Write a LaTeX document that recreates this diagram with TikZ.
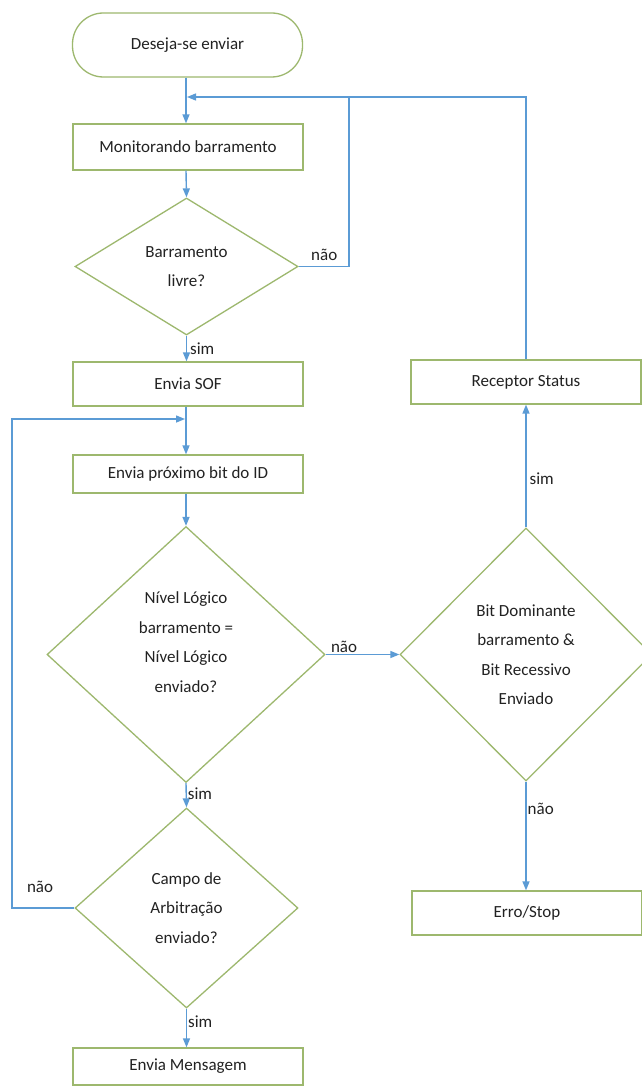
\documentclass[tikz,border=0pt]{standalone}
\usepackage{fontspec}
\setmainfont{Carlito}
\usetikzlibrary{arrows.meta,shapes.geometric}
\definecolor{boxline}{HTML}{9DB86E}
\definecolor{flow}{HTML}{5B9BD5}
\definecolor{ink}{HTML}{222222}
\begin{document}
\begin{tikzpicture}[x=1pt,y={(0pt,-1pt)},
  every node/.style={text=ink,font=\fontsize{17}{29.5}\selectfont},
  procbox/.style={draw=boxline,line width=1.3pt,fill=white,minimum width=230pt,inner sep=0pt},
  termbox/.style={procbox,rounded corners=31pt,minimum height=64pt},
  decision/.style={draw=boxline,line width=1.3pt,fill=white,diamond,inner sep=0pt,align=center},
  txt/.style={align=center,inner sep=0pt},
  lbl/.style={inner sep=1pt},
  conn/.style={draw=flow,line width=1.4pt},
  arr/.style={conn,-{Triangle[length=9pt,width=7pt]}}]
\useasboundingbox[fill=white] (0,0) rectangle (641,1086);

% left column
\node[termbox] (start) at (187.5,45) {Deseja-se enviar};
\node[procbox,minimum height=46pt] (mon) at (188,147) {Monitorando barramento};
\node[decision,minimum width=223pt,minimum height=137pt] (bar) at (186.5,266.5) {Barramento\\livre?};
\node[procbox,minimum height=44pt] (sof) at (188,384) {Envia SOF};
\node[procbox,minimum height=38pt] (prox) at (188,474) {Envia próximo bit do ID};
\node[decision,minimum width=278pt,minimum height=256pt] (niv) at (186,654.5) {};
\node[txt] (nivtxt) at (186,642) {Nível Lógico\\barramento =\\Nível Lógico\\enviado?};
\node[decision,minimum width=223pt,minimum height=200pt] (campo) at (186.5,908) {Campo de\\Arbitração\\enviado?};
\node[procbox,minimum height=37pt] (msg) at (188,1066.5) {Envia Mensagem};

% right column
\node[decision,minimum width=252pt,minimum height=253pt] (bit) at (526,654.5) {Bit Dominante\\barramento \&\\Bit Recessivo\\Enviado};
\node[procbox,minimum height=44pt] (rec) at (526,382) {Receptor Status};
\node[procbox,minimum height=44pt] (erro) at (527,913) {Erro/Stop};

% junction points of the return paths
\coordinate (topjoin) at (186,97);
\coordinate (loopjoin) at (186,419);

% main flow
\draw[arr] (start.south -| topjoin) -- (mon.north -| topjoin);
\draw[arr] (mon.south -| topjoin) -- (bar.north);
\draw[arr] (bar.south) -- node[lbl,right,xshift=2pt] {sim} (sof.north -| bar.south);
\draw[arr] (sof.south -| loopjoin) -- (prox.north -| loopjoin);
\draw[arr] (prox.south -| niv.north) -- (niv.north);
\draw[arr] (niv.south) -- node[lbl,right,pos=0.45] {sim} (campo.north);
\draw[arr] (campo.south) -- node[lbl,right,pos=0.35] {sim} (msg.north -| campo.south);

% decisions to the right
\draw[arr] (niv.east) -- node[lbl,above,pos=0.25] {não} (bit.west);
\draw[arr] (bit.north) -- node[lbl,right,pos=0.4,xshift=2pt] {sim} (rec.south -| bit.north);
\draw[arr] (bit.south) -- node[lbl,right,pos=0.25] {não} (erro.north -| bit.south);

% return paths
\draw[conn] (bar.east) -- node[lbl,above left,pos=0.8,yshift=4pt] {não} (349,266.5) -- (349,97);
\draw[arr] (rec.north -| bit.north) -- (526,97) -- ([xshift=1pt]topjoin);
\draw[arr] (campo.west) -- node[lbl,above,pos=0.55,yshift=14pt] {não} (12,908) -- (12,419) -- ([xshift=-1pt]loopjoin);
\end{tikzpicture}
\end{document}
